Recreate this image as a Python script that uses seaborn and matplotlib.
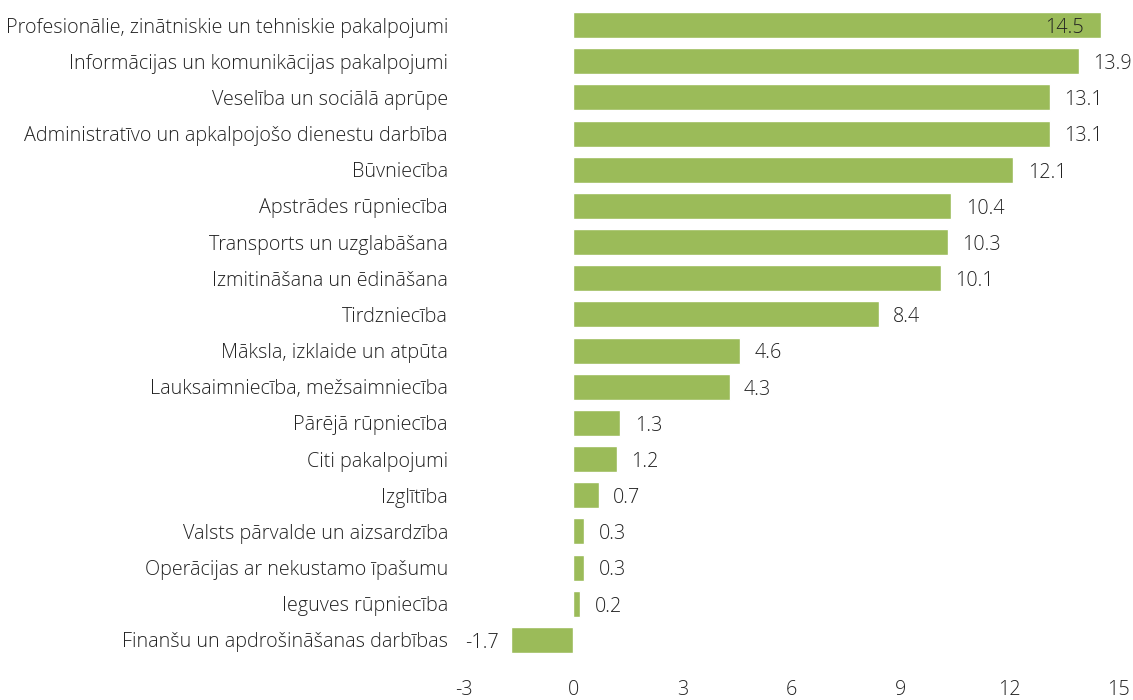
import matplotlib
matplotlib.use("Agg")
import matplotlib.pyplot as plt
import seaborn as sns
import pandas as pd

categories = [
    "Profesionālie, zinātniskie un tehniskie pakalpojumi",
    "Informācijas un komunikācijas pakalpojumi",
    "Veselība un sociālā aprūpe",
    "Administratīvo un apkalpojošo dienestu darbība",
    "Būvniecība",
    "Apstrādes rūpniecība",
    "Transports un uzglabāšana",
    "Izmitināšana un ēdināšana",
    "Tirdzniecība",
    "Māksla, izklaide un atpūta",
    "Lauksaimniecība, mežsaimniecība",
    "Pārējā rūpniecība",
    "Citi pakalpojumi",
    "Izglītība",
    "Valsts pārvalde un aizsardzība",
    "Operācijas ar nekustamo īpašumu",
    "Ieguves rūpniecība",
    "Finanšu un apdrošināšanas darbības",
]
values = [14.5, 13.9, 13.1, 13.1, 12.1, 10.4, 10.3, 10.1, 8.4, 4.6, 4.3,
          1.3, 1.2, 0.7, 0.3, 0.3, 0.2, -1.7]
x_ticks = [-3, 0, 3, 6, 9, 12, 15]

df = pd.DataFrame({"nozare": categories, "vertiba": values})

sns.set_theme(style="white")
plt.rcParams["font.family"] = ["Open Sans", "DejaVu Sans"]
plt.rcParams["font.weight"] = "light"

fig = plt.figure(figsize=(11.33, 7), dpi=100)
ax = fig.add_axes([0.4095, 0.06, 0.578, 0.93])

sns.barplot(data=df, x="vertiba", y="nozare", color="#9BBB59",
            saturation=1, width=0.72, ax=ax)

fs = 14.2
for i, v in enumerate(values):
    label = f"{v:.1f}"
    if v >= 14.5:
        ax.text(v - 0.45, i + 0.08, label, ha="right", va="center", fontsize=fs,
                color="#222222", fontweight="light")
    elif v < 0:
        ax.text(v - 0.35, i + 0.08, label, ha="right", va="center", fontsize=fs,
                color="#222222", fontweight="light")
    else:
        ax.text(v + 0.4, i + 0.08, label, ha="left", va="center", fontsize=fs,
                color="#222222", fontweight="light")

ax.set_xlim(-3, 15)
ax.set_xticks(x_ticks)
ax.set_xticklabels([str(t) for t in x_ticks])
ax.set_xlabel("")
ax.set_ylabel("")
ax.tick_params(axis="x", length=0, pad=16, labelsize=fs, labelcolor="#222222")
ax.tick_params(axis="y", length=0, pad=11.5, labelsize=fs, labelcolor="#222222")
for s in ax.spines.values():
    s.set_visible(False)

fig.savefig("out.png", dpi=100)
